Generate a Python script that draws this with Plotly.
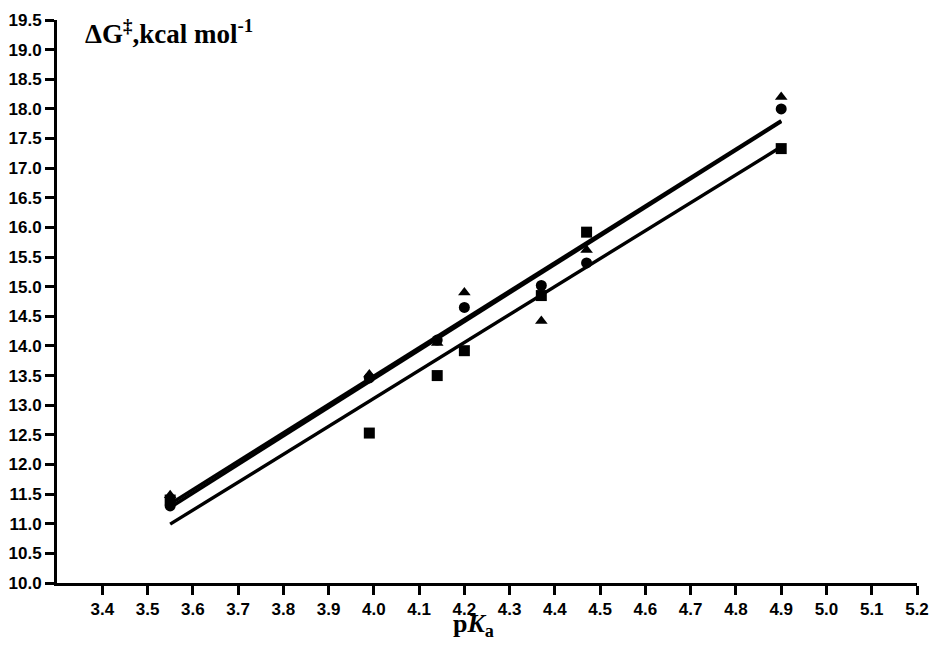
import numpy as np
import plotly.graph_objects as go

# pKa of the substrates
pka = [3.55, 3.99, 4.14, 4.20, 4.37, 4.47, 4.90]

# Activation free energies (kcal/mol) for the three series
dg_square = [11.40, 12.53, 13.50, 13.92, 14.85, 15.92, 17.33]
dg_circle = [11.30, 13.46, 14.10, 14.65, 15.02, 15.40, 18.00]
dg_triangle = [11.48, 13.52, 14.05, 14.90, 14.42, 15.62, 18.20]

x_ticks = [round(3.4 + 0.1 * i, 1) for i in range(19)]
y_ticks = [round(10.0 + 0.5 * i, 1) for i in range(20)]

series = [
    ("square", dg_square),
    ("circle", dg_circle),
    ("triangle-up", dg_triangle),
]

fig = go.Figure()
x_arr = np.array(pka)
x_fit = np.array([min(pka), max(pka)])

# data points first, least-squares lines drawn over them
for symbol, ys in series:
    fig.add_trace(go.Scatter(
        x=pka, y=ys, mode="markers",
        marker=dict(symbol=symbol, size=11, color="black",
                    line=dict(width=0)),
        showlegend=False,
    ))

for symbol, ys in series:
    slope, intercept = np.polyfit(x_arr, np.array(ys), 1)
    fig.add_trace(go.Scatter(
        x=x_fit, y=slope * x_fit + intercept, mode="lines",
        line=dict(color="black", width=3.4), showlegend=False,
        hoverinfo="skip",
    ))

axis_common = dict(
    showline=True, linecolor="black", linewidth=3,
    ticks="outside", ticklen=9, tickwidth=3, tickcolor="black",
    showgrid=False, zeroline=False, mirror=False, automargin=False,
    tickfont=dict(family="Liberation Sans, Arial", size=17, color="black",
                  weight=700),
)

fig.update_xaxes(
    range=[3.3, 5.2], tickmode="array", tickvals=x_ticks,
    ticktext=[f"{v:.1f}" for v in x_ticks], **axis_common,
)
fig.update_yaxes(
    range=[10.0, 19.5], tickmode="array", tickvals=y_ticks,
    ticktext=[f"{v:.1f}" for v in y_ticks], **axis_common,
)

fig.add_annotation(
    text="<b>ΔG<sup>‡</sup>,kcal mol<sup>-1</sup></b>",
    xref="paper", yref="paper", x=0.03, y=1.0, yshift=7,
    xanchor="left", yanchor="top", showarrow=False,
    font=dict(family="Liberation Serif, Times New Roman", size=27,
              color="black"),
)
fig.add_annotation(
    text="<b>p<i>K</i><sub>a</sub></b>",
    xref="paper", yref="paper", x=0.484, y=0, yshift=-42,
    xanchor="center", yanchor="middle", showarrow=False,
    font=dict(family="Liberation Serif, Times New Roman", size=26,
              color="black"),
)

fig.update_layout(
    width=932, height=657,
    margin=dict(l=57, r=15, t=20, b=74),
    plot_bgcolor="white", paper_bgcolor="white",
)

fig.write_html("out.html")
